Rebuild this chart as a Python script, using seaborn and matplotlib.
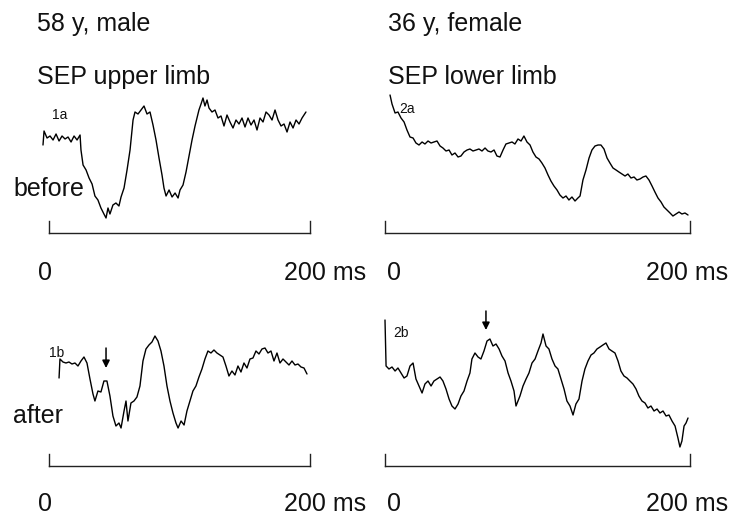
import matplotlib
matplotlib.use("Agg")
import matplotlib.pyplot as plt
import seaborn as sns
import pandas as pd

# SEP traces: time in ms, amplitude in arbitrary units
# (height above the scale bar)
t_1a = [-4.6, -3.8, -1.5, 0.8, 3.1, 5.4, 7.7, 10.0, 12.3, 14.6,
        16.9, 19.2, 21.5, 23.8, 24.5, 26.1, 28.4, 30.7, 33.0, 35.2,
        37.5, 39.8, 42.1, 43.7, 45.2, 46.7, 49.0, 51.3, 53.6, 55.2,
        57.5, 59.8, 62.1, 64.4, 65.9, 68.2, 70.5, 72.8, 75.1, 77.4,
        79.7, 82.0, 84.3, 86.6, 88.1, 89.7, 92.0, 94.3, 96.6, 98.9,
        100.4, 102.7, 105.0, 107.3, 109.6, 111.9, 113.4, 114.9, 116.5, 118.0,
        119.5, 121.1, 122.6, 124.9, 127.2, 129.5, 131.8, 134.1, 136.4, 138.7,
        141.0, 143.3, 145.6, 147.9, 150.2, 152.5, 154.8, 157.1, 159.4, 161.7,
        164.0, 166.3, 168.6, 170.9, 173.2, 175.5, 177.8, 180.1, 182.4, 184.7,
        187.0, 189.3, 191.6, 193.9, 196.9]
amp_1a = [8.8, 10.2, 9.5, 9.7, 9.3, 9.9, 9.2, 9.7, 9.4, 9.6,
          9.1, 9.7, 9.3, 9.8, 8.3, 6.8, 6.3, 5.5, 4.9, 3.7,
          3.3, 2.5, 1.9, 1.5, 2.5, 1.9, 2.8, 3.0, 2.7, 3.6,
          4.5, 6.3, 8.3, 11.3, 12.1, 11.9, 12.3, 12.7, 11.9, 12.1,
          10.8, 9.3, 7.5, 5.8, 4.5, 3.7, 4.3, 3.6, 4.0, 3.5,
          4.3, 4.8, 6.1, 7.7, 9.3, 10.7, 11.5, 12.3, 12.9, 13.5,
          12.7, 13.3, 12.5, 12.1, 12.3, 11.5, 11.7, 10.7, 11.8, 11.1,
          10.5, 11.3, 10.9, 11.5, 10.6, 11.5, 10.8, 11.3, 10.3, 11.5,
          11.1, 12.1, 11.8, 11.3, 12.3, 11.3, 10.7, 10.9, 10.1, 11.1,
          10.5, 11.3, 10.9, 11.5, 12.1]

t_2a = [3.3, 4.6, 6.6, 8.5, 10.5, 12.5, 14.4, 16.4, 18.4, 20.3,
        22.3, 24.3, 26.2, 28.2, 30.2, 32.1, 34.1, 36.1, 38.0, 40.0,
        42.0, 43.9, 45.9, 47.9, 49.8, 51.8, 53.8, 55.7, 57.7, 59.7,
        61.6, 63.6, 65.6, 67.5, 69.5, 71.5, 73.4, 75.4, 77.4, 79.3,
        81.3, 83.3, 85.2, 87.2, 89.2, 91.1, 93.1, 95.1, 97.0, 99.0,
        101.0, 102.9, 104.9, 106.9, 108.8, 110.8, 112.8, 114.7, 116.7, 118.7,
        120.6, 122.6, 124.6, 126.5, 127.9, 129.8, 131.8, 133.8, 135.7, 137.7,
        139.7, 141.6, 143.6, 145.6, 147.5, 149.5, 151.5, 153.4, 155.4, 157.4,
        159.3, 161.3, 163.3, 165.2, 167.2, 169.2, 171.1, 173.1, 175.1, 177.0,
        179.0, 181.0, 182.9, 184.9, 186.9, 188.8, 190.8, 192.8, 194.7, 196.7,
        198.7]
amp_2a = [13.8, 12.9, 12.0, 12.1, 11.5, 11.1, 10.3, 9.6, 9.5, 9.0,
          8.8, 9.1, 8.9, 9.2, 9.0, 9.1, 9.2, 8.7, 8.5, 8.2,
          8.3, 7.8, 8.0, 7.6, 7.7, 8.1, 8.3, 8.4, 8.2, 8.3,
          8.4, 8.2, 8.5, 8.2, 8.1, 8.3, 7.7, 7.6, 8.3, 8.9,
          9.0, 9.1, 8.9, 9.4, 9.2, 9.7, 9.1, 8.8, 8.1, 7.6,
          7.4, 7.0, 6.5, 5.8, 5.2, 4.7, 4.3, 3.8, 3.5, 3.7,
          3.3, 3.6, 3.2, 3.5, 3.7, 5.3, 6.3, 7.5, 8.3, 8.7,
          8.8, 8.8, 8.4, 7.5, 7.0, 6.5, 6.3, 6.1, 5.9, 5.7,
          5.9, 5.5, 5.6, 5.3, 5.4, 5.6, 5.7, 5.3, 4.7, 4.1,
          3.5, 3.1, 2.6, 2.3, 2.0, 1.7, 1.9, 2.1, 1.9, 2.0,
          1.8]

t_1b = [7.7, 8.4, 10.7, 13.0, 15.3, 17.6, 19.9, 22.2, 24.5, 26.8,
        29.1, 31.4, 33.7, 35.2, 37.5, 39.8, 42.1, 44.4, 46.7, 49.0,
        51.3, 53.6, 55.2, 57.5, 59.0, 60.5, 62.8, 65.1, 67.4, 69.7,
        72.0, 74.3, 76.6, 78.9, 81.2, 83.5, 85.8, 88.1, 90.4, 92.7,
        95.0, 97.3, 98.9, 101.2, 103.5, 105.7, 108.0, 110.3, 112.6, 114.9,
        117.2, 119.5, 121.8, 124.1, 126.4, 128.7, 131.0, 133.3, 135.6, 137.9,
        140.2, 142.5, 144.8, 147.1, 149.4, 151.7, 154.0, 156.3, 158.6, 160.9,
        163.2, 165.5, 167.8, 170.1, 172.4, 174.7, 177.0, 179.3, 181.6, 183.9,
        186.2, 188.5, 190.8, 193.1, 195.4, 197.7]
amp_1b = [8.8, 10.7, 10.4, 10.3, 10.4, 10.2, 10.3, 10.0, 10.5, 10.9,
          10.3, 8.7, 7.2, 6.5, 7.5, 7.4, 8.5, 8.5, 7.0, 5.0,
          4.0, 4.3, 3.8, 5.5, 6.5, 4.5, 6.3, 6.5, 6.9, 8.0,
          10.5, 11.7, 12.1, 12.4, 13.0, 12.5, 11.5, 10.0, 8.0, 6.5,
          5.3, 4.3, 3.8, 4.5, 4.1, 5.5, 6.5, 7.5, 8.0, 8.9,
          9.7, 10.7, 11.5, 11.3, 11.6, 11.3, 11.1, 10.9, 10.0, 9.0,
          9.5, 9.1, 10.0, 9.4, 10.3, 9.8, 10.7, 10.8, 11.5, 11.2,
          11.7, 11.8, 11.3, 11.5, 10.5, 11.3, 10.3, 10.7, 10.4, 10.1,
          10.5, 10.1, 10.2, 9.9, 9.8, 9.2]

t_2b = [0.0, 0.7, 2.6, 4.6, 6.6, 8.5, 10.5, 12.5, 14.4, 16.4,
        18.4, 20.3, 22.3, 24.3, 26.2, 28.2, 30.2, 32.1, 34.1, 36.1,
        38.0, 40.0, 42.0, 43.9, 45.9, 47.9, 49.8, 51.8, 53.8, 55.7,
        57.0, 59.0, 61.0, 62.9, 64.9, 66.9, 68.8, 70.8, 72.8, 74.8,
        76.7, 78.7, 80.7, 82.6, 84.6, 85.9, 87.2, 88.5, 90.5, 92.5,
        94.4, 96.4, 98.4, 100.3, 102.3, 103.6, 105.6, 107.5, 109.5, 111.5,
        113.4, 115.4, 117.4, 119.3, 121.3, 123.3, 125.2, 127.2, 129.2, 131.1,
        133.1, 135.1, 137.0, 139.0, 141.0, 142.9, 144.9, 146.9, 148.8, 150.8,
        152.8, 154.7, 156.7, 158.7, 160.6, 162.6, 164.6, 166.5, 168.5, 170.5,
        172.4, 174.4, 176.4, 178.4, 180.3, 182.3, 184.3, 186.2, 188.2, 190.2,
        192.1, 193.4, 194.7, 196.1, 197.4, 198.7]
amp_2b = [14.6, 10.0, 9.7, 9.9, 9.5, 9.8, 9.3, 8.8, 9.0, 10.0,
          10.3, 8.7, 8.0, 7.3, 8.2, 8.5, 8.0, 8.5, 8.7, 8.9,
          8.5, 7.7, 6.7, 6.0, 5.7, 6.2, 7.0, 7.5, 8.5, 9.3,
          10.7, 11.3, 10.9, 10.7, 11.5, 12.5, 12.7, 12.0, 12.2, 11.7,
          11.0, 10.5, 9.3, 8.5, 7.5, 6.0, 6.5, 7.0, 8.0, 8.7,
          9.3, 10.3, 10.7, 11.5, 12.3, 13.2, 12.0, 11.7, 10.7, 10.0,
          9.7, 8.7, 7.7, 6.5, 6.0, 5.1, 6.2, 6.7, 8.5, 9.7,
          10.5, 11.1, 11.3, 11.7, 11.9, 12.1, 12.3, 11.7, 11.5, 11.3,
          10.5, 9.5, 9.0, 8.8, 8.5, 8.2, 7.7, 7.0, 6.5, 6.3,
          5.8, 6.0, 5.5, 5.7, 5.3, 5.5, 5.0, 5.1, 4.5, 4.0,
          2.8, 1.9, 2.5, 4.0, 4.3, 4.8]

bar_labels = ["0", "200 ms"]

sns.set_style("white")
plt.rcParams["font.family"] = ["Liberation Sans", "DejaVu Sans"]

W, H = 731, 515
fig = plt.figure(figsize=(W / 100, H / 100), dpi=100)


def rect(left, right, bar_y, height=140):
    # axes box from pixel positions; bottom edge is the scale bar
    return [left / W, 1 - bar_y / H, (right - left) / W, height / H]


def ftext(x, y, s, **kw):
    kw.setdefault("fontsize", 18)
    kw.setdefault("va", "center")
    fig.text(x / W, 1 - y / H, s, color="#111111", **kw)


# (name, times, amps, axes rect, label position, arrow (t, from, to))
panels = [
    ("1a", t_1a, amp_1a, rect(49, 310, 233), (2.3, 11.8), None),
    ("2a", t_2a, amp_2a, rect(385, 690, 233), (9.2, 12.4), None),
    ("1b", t_1b, amp_1b, rect(49, 310, 466), (0.3, 11.3), (43.7, 11.8, 9.8)),
    ("2b", t_2b, amp_2b, rect(385, 690, 466), (5.2, 13.3), (66.2, 15.5, 13.6)),
]

for name, t, amp, r, lab, arrow in panels:
    ax = fig.add_axes(r)
    df = pd.DataFrame({"t": t, "amp": amp})
    sns.lineplot(data=df, x="t", y="amp", ax=ax, color="black", lw=1.0,
                 estimator=None, sort=False, clip_on=False)
    ax.set_xlim(0, 200)
    ax.set_ylim(0, 14)
    ax.set_xticks([])
    ax.set_yticks([])
    ax.set_xlabel("")
    ax.set_ylabel("")
    ax.patch.set_alpha(0)
    # scale bar: bottom spine with short end ticks
    ax.spines["top"].set_visible(False)
    for side in ["bottom", "left", "right"]:
        ax.spines[side].set_visible(True)
        ax.spines[side].set_color("#222222")
        ax.spines[side].set_linewidth(1.0)
    ax.spines["left"].set_bounds(0, 1.25)
    ax.spines["right"].set_bounds(0, 1.25)
    ax.text(lab[0], lab[1], name, fontsize=10, ha="left", va="center",
            color="#111111")
    if arrow is not None:
        ax.annotate("", xy=(arrow[0], arrow[2]), xytext=(arrow[0], arrow[1]),
                    arrowprops=dict(arrowstyle="-|>", color="black", lw=1.1,
                                    mutation_scale=11, shrinkA=0, shrinkB=0),
                    annotation_clip=False)

# titles and row labels
ftext(37, 24, "58 y, male")
ftext(37, 77, "SEP upper limb")
ftext(388, 24, "36 y, female")
ftext(388, 77, "SEP lower limb")
ftext(13, 189, "before")
ftext(13, 416, "after")

# scale bar labels
for y in [273, 504]:
    ftext(45, y, bar_labels[0], ha="center")
    ftext(284, y, bar_labels[1], ha="left")
    ftext(394, y, bar_labels[0], ha="center")
    ftext(646, y, bar_labels[1], ha="left")

fig.savefig("out.png", dpi=100)
